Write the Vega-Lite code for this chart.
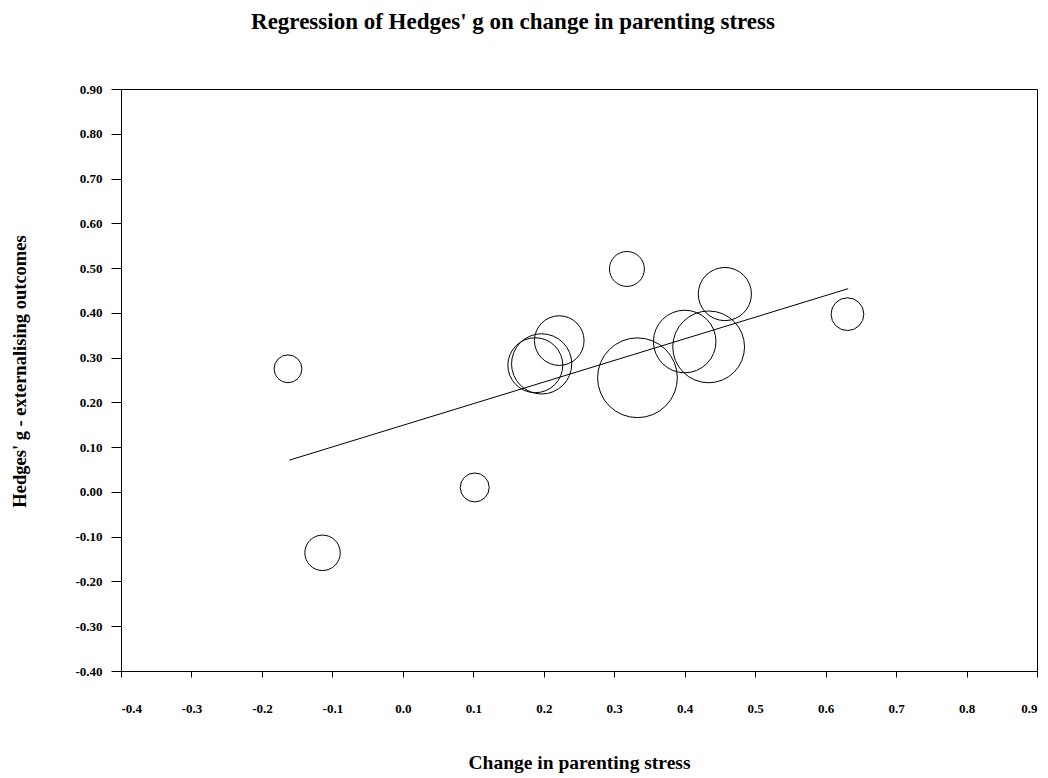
{
  "$schema": "https://vega.github.io/schema/vega-lite/v6.json",
  "width": 916,
  "height": 582,
  "autosize": {"type": "none"},
  "padding": {"left": 121, "top": 89, "right": 11, "bottom": 107},
  "background": "white",
  "title": {
    "text": "Regression of Hedges' g on change in parenting stress",
    "font": "Liberation Serif",
    "fontSize": 23,
    "fontWeight": "bold",
    "color": "black",
    "anchor": "middle",
    "dx": -66,
    "offset": 49
  },
  "config": {
    "locale": {
      "number": {"decimal": ".", "thousands": ",", "grouping": [3], "currency": ["$", ""], "minus": "-"}
    },
    "view": {"stroke": "black", "strokeWidth": 1},
    "axis": {
      "grid": false,
      "domainColor": "black",
      "tickColor": "black",
      "labelColor": "black",
      "titleColor": "black",
      "labelFont": "Liberation Serif",
      "labelFontWeight": "bold",
      "labelFontSize": 13,
      "titleFont": "Liberation Serif",
      "titleFontWeight": "bold"
    }
  },
  "datasets": {
    "studies": [
      {"change": -0.163, "g": 0.275, "weight": 2.38},
      {"change": -0.114, "g": -0.136, "weight": 3.86},
      {"change": 0.102, "g": 0.010, "weight": 2.57},
      {"change": 0.318, "g": 0.498, "weight": 3.75},
      {"change": 0.222, "g": 0.338, "weight": 7.57},
      {"change": 0.188, "g": 0.283, "weight": 9.28},
      {"change": 0.197, "g": 0.286, "weight": 11.16},
      {"change": 0.333, "g": 0.255, "weight": 19.56},
      {"change": 0.400, "g": 0.336, "weight": 12.03},
      {"change": 0.434, "g": 0.324, "weight": 15.84},
      {"change": 0.457, "g": 0.442, "weight": 8.69},
      {"change": 0.631, "g": 0.397, "weight": 3.30}
    ],
    "fit": [
      {"change": -0.161, "g": 0.071},
      {"change": 0.632, "g": 0.454}
    ]
  },
  "encoding": {
    "x": {
      "field": "change",
      "type": "quantitative",
      "scale": {"domain": [-0.4, 0.9], "nice": false, "zero": false},
      "axis": {
        "title": "Change in parenting stress",
        "titleFontSize": 19.5,
        "values": [-0.4, -0.3, -0.2, -0.1, 0, 0.1, 0.2, 0.3, 0.4, 0.5, 0.6, 0.7, 0.8, 0.9],
        "format": ".1f",
        "tickSize": 6,
        "labelPadding": 25,
        "titlePadding": 38
      }
    },
    "y": {
      "field": "g",
      "type": "quantitative",
      "scale": {"domain": [-0.4, 0.9], "nice": false, "zero": false},
      "axis": {
        "title": "Hedges' g - externalising outcomes",
        "titleFontSize": 18.5,
        "values": [-0.4, -0.3, -0.2, -0.1, 0, 0.1, 0.2, 0.3, 0.4, 0.5, 0.6, 0.7, 0.8, 0.9],
        "format": ".2f",
        "tickSize": 10,
        "labelPadding": 9,
        "titlePadding": 45,
        "titleY": 282
      }
    }
  },
  "layer": [
    {
      "data": {"name": "studies"},
      "mark": {"type": "point", "shape": "circle", "filled": false, "stroke": "black", "strokeWidth": 1, "opacity": 1},
      "encoding": {
        "size": {
          "field": "weight",
          "type": "quantitative",
          "scale": {"domain": [0, 20], "range": [0, 6505], "zero": true},
          "legend": null
        }
      }
    },
    {
      "data": {"name": "fit"},
      "mark": {"type": "line", "color": "black", "strokeWidth": 1},
      "encoding": {}
    }
  ]
}
